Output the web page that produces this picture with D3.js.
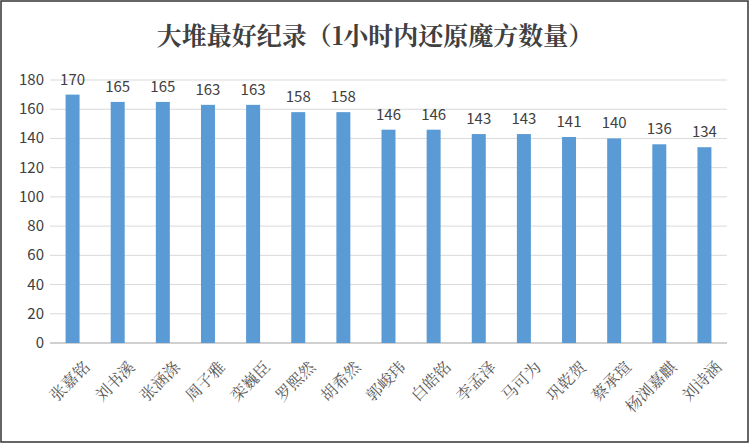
<!DOCTYPE html><html><head><meta charset="utf-8"><script src="https://cdn.jsdelivr.net/npm/d3@7"></script>
<style>body{margin:0;background:#fff}</style></head><body><svg id="c" width="750" height="444"></svg>
<script>
const names=["张嘉铭","刘书溪","张涵涤","周子雅","栾巍臣","罗熙然","胡希然","郭峻玮","白皓铭","李孟泽","马可为","巩乾贺","蔡承瑄","杨浏嘉麒","刘诗涵"];
const values=[170,165,165,163,163,158,158,146,146,143,143,141,140,136,134];
const ticks=[0,20,40,60,80,100,120,140,160,180];
const svg=d3.select("#c");
svg.append("rect").attr("x",1).attr("y",1).attr("width",747).attr("height",441).attr("fill","#fff").attr("stroke","#333").attr("stroke-width",1.5);
const x=d3.scaleBand().domain(names).range([50,727]).paddingInner(0.69).paddingOuter(0.345);
const y=d3.scaleLinear().domain([0,180]).range([343,80]);
const g=svg.append("g");
g.selectAll(".gl").data(ticks).join("line").attr("x1",50).attr("x2",727).attr("y1",d=>y(d)).attr("y2",d=>y(d)).attr("stroke",d=>d===0?"#d0d0d0":"#d9d9d9").attr("stroke-width",d=>d===0?2:1);
g.selectAll(".yt").data(ticks).join("text").attr("x",44).attr("y",d=>y(d)+5).attr("text-anchor","end").attr("font-family","Noto Sans CJK SC, sans-serif").attr("font-size",15).attr("fill","#404040").text(d=>d);
g.selectAll("rect.b").data(values).join("rect").attr("x",(d,i)=>x(names[i])).attr("width",x.bandwidth()).attr("y",d=>y(d)).attr("height",d=>y(0)-y(d)).attr("fill","#5b9bd5");
g.selectAll(".vl").data(values).join("text").attr("x",(d,i)=>x(names[i])+x.bandwidth()/2).attr("y",d=>y(d)-10).attr("text-anchor","middle").attr("font-family","Noto Sans CJK SC, sans-serif").attr("font-size",15).attr("fill","#404040").text(d=>d);
g.selectAll(".xl").data(names).join("text").attr("transform",d=>`translate(${x(d)+x.bandwidth()/2+8},${358}) rotate(-45)`).attr("text-anchor","end").attr("dominant-baseline","hanging").attr("font-family","Noto Serif CJK SC, serif").attr("font-size",16).attr("fill","#595959").text(d=>d);
svg.append("text").attr("x",375).attr("y",45).attr("text-anchor","middle").attr("font-family","Noto Serif CJK SC, serif").attr("font-size",25).attr("font-weight","bold").attr("fill","#404040").text("大堆最好纪录（1小时内还原魔方数量）");
</script></body></html>
